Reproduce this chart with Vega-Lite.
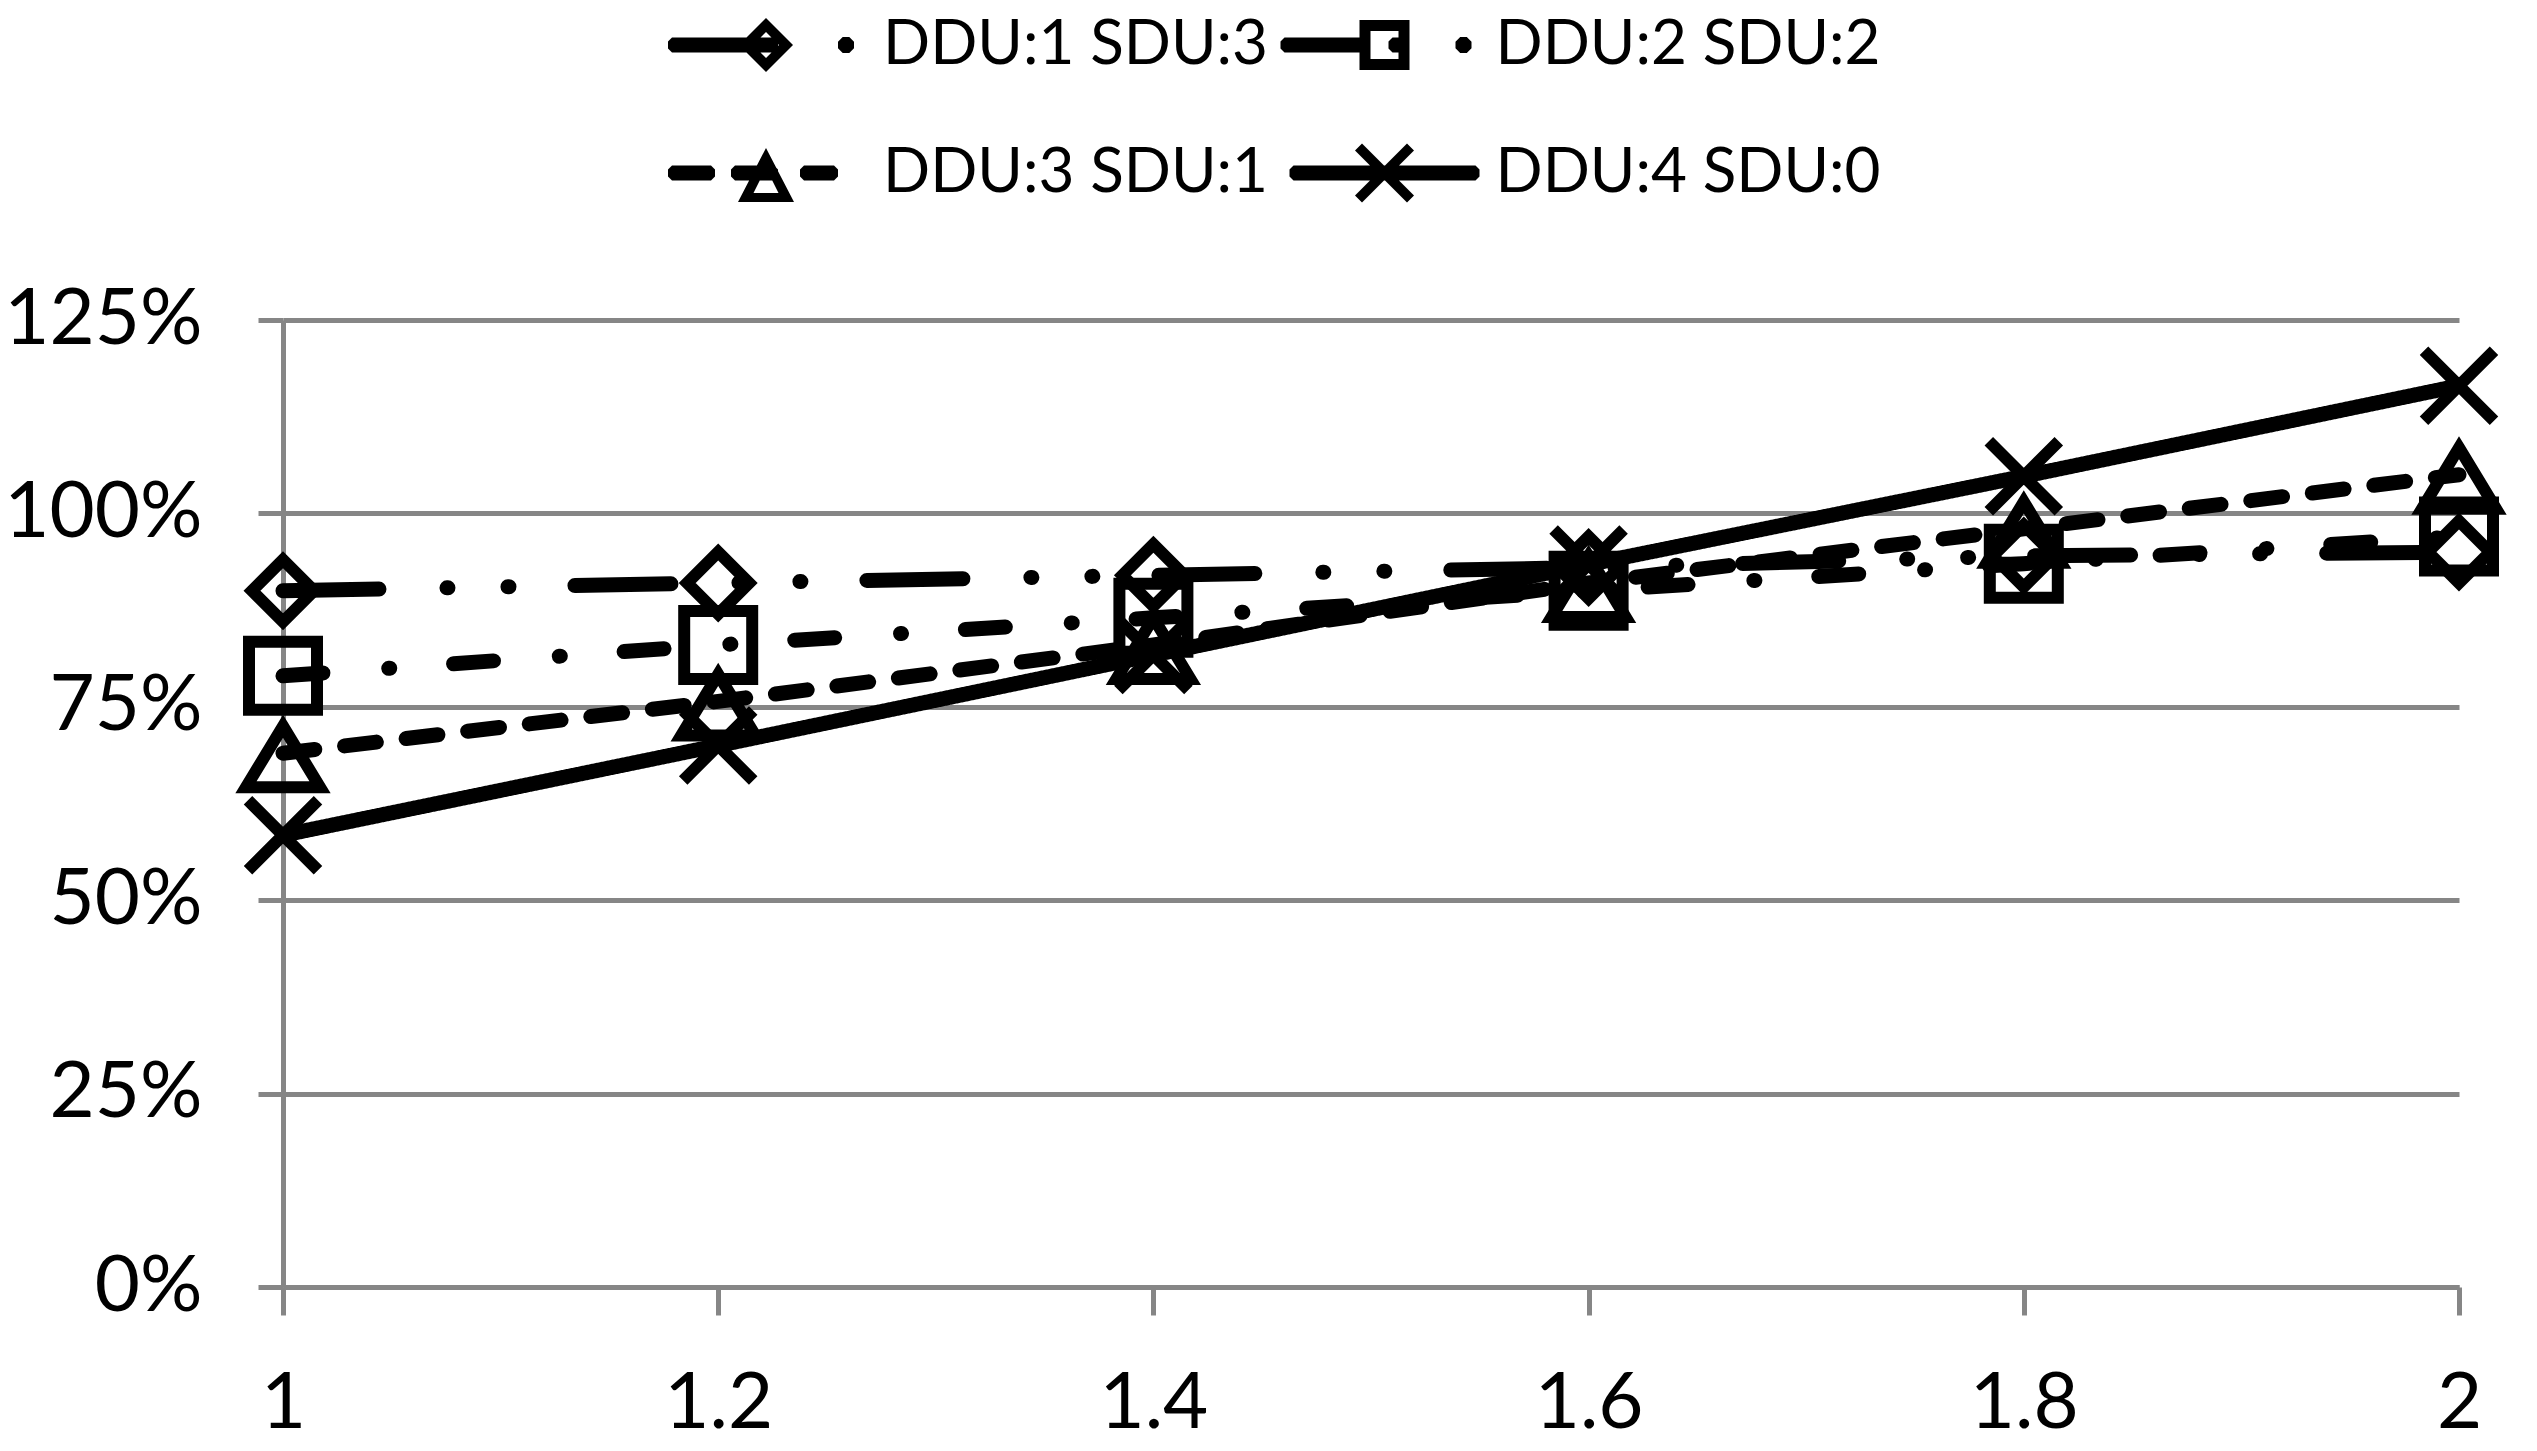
{
  "$schema": "https://vega.github.io/schema/vega-lite/v6.json",
  "width": 2176,
  "height": 967,
  "autosize": {"type": "none"},
  "padding": {"left": 283, "top": 320, "right": 78, "bottom": 164},
  "background": "white",
  "config": {"view": {"stroke": null}, "font": "Lato"},
  "data": {
    "values": [
      {"series": "DDU:1 SDU:3", "x": 1.0, "y": 0.90},
      {"series": "DDU:1 SDU:3", "x": 1.2, "y": 0.91},
      {"series": "DDU:1 SDU:3", "x": 1.4, "y": 0.92},
      {"series": "DDU:1 SDU:3", "x": 1.6, "y": 0.93},
      {"series": "DDU:1 SDU:3", "x": 1.8, "y": 0.945},
      {"series": "DDU:1 SDU:3", "x": 2.0, "y": 0.95},
      {"series": "DDU:2 SDU:2", "x": 1.0, "y": 0.79},
      {"series": "DDU:2 SDU:2", "x": 1.2, "y": 0.83},
      {"series": "DDU:2 SDU:2", "x": 1.4, "y": 0.865},
      {"series": "DDU:2 SDU:2", "x": 1.6, "y": 0.90},
      {"series": "DDU:2 SDU:2", "x": 1.8, "y": 0.935},
      {"series": "DDU:2 SDU:2", "x": 2.0, "y": 0.97},
      {"series": "DDU:3 SDU:1", "x": 1.0, "y": 0.69},
      {"series": "DDU:3 SDU:1", "x": 1.2, "y": 0.757},
      {"series": "DDU:3 SDU:1", "x": 1.4, "y": 0.83},
      {"series": "DDU:3 SDU:1", "x": 1.6, "y": 0.91},
      {"series": "DDU:3 SDU:1", "x": 1.8, "y": 0.98},
      {"series": "DDU:3 SDU:1", "x": 2.0, "y": 1.05},
      {"series": "DDU:4 SDU:0", "x": 1.0, "y": 0.584},
      {"series": "DDU:4 SDU:0", "x": 1.2, "y": 0.70},
      {"series": "DDU:4 SDU:0", "x": 1.4, "y": 0.817},
      {"series": "DDU:4 SDU:0", "x": 1.6, "y": 0.934},
      {"series": "DDU:4 SDU:0", "x": 1.8, "y": 1.048},
      {"series": "DDU:4 SDU:0", "x": 2.0, "y": 1.165}
    ]
  },
  "encoding": {
    "x": {
      "field": "x", "type": "quantitative",
      "scale": {"domain": [1, 2], "nice": false, "zero": false},
      "axis": {
        "values": [1, 1.2, 1.4, 1.6, 1.8, 2], "format": "~g", "title": null, "grid": false,
        "domainColor": "#868686", "domainWidth": 5,
        "tickColor": "#868686", "tickWidth": 5, "tickSize": 28,
        "labelFontSize": 78, "labelColor": "black", "labelPadding": 50,
        "labelFlush": false, "labelOverlap": false, "labelLimit": 500
      }
    },
    "y": {
      "field": "y", "type": "quantitative",
      "scale": {"domain": [0, 1.25], "nice": false},
      "axis": {
        "values": [0, 0.25, 0.5, 0.75, 1, 1.25], "format": ".0%", "title": null,
        "grid": true, "gridColor": "#868686", "gridWidth": 5,
        "domainColor": "#868686", "domainWidth": 5,
        "tickColor": "#868686", "tickWidth": 5, "tickSize": 25,
        "labelFontSize": 78, "labelColor": "black", "labelPadding": 56,
        "labelFlush": false, "labelOverlap": false, "labelLimit": 500
      }
    }
  },
  "resolve": {"scale": {"shape": "independent"}},
  "layer": [
    {
      "mark": {"type": "line", "strokeWidth": 15, "strokeCap": "round", "strokeJoin": "round", "color": "black"},
      "encoding": {
        "strokeDash": {
          "field": "series", "type": "nominal",
          "scale": {
            "domain": ["DDU:3 SDU:1", "DDU:4 SDU:0", "DDU:1 SDU:3", "DDU:2 SDU:2"],
            "range": [[32, 30], [1, 0], [96, 68, 1, 60, 1, 66], [40, 66, 1, 64]]
          },
          "legend": null
        }
      }
    },
    {
      "mark": {"type": "point", "filled": false, "color": "black", "strokeWidth": 12, "size": 4, "strokeJoin": "miter", "strokeCap": "butt", "opacity": 1},
      "encoding": {
        "shape": {
          "field": "series", "type": "nominal",
          "scale": {
            "domain": ["DDU:4 SDU:0", "DDU:3 SDU:1", "DDU:2 SDU:2", "DDU:1 SDU:3"],
            "range": ["M-35,-35L35,35M35,-35L-35,35", "M0,-27L37,34L-37,34Z", "M-34,-34H34V34H-34Z", "M0,-31L31,0L0,31L-31,0Z"]
          },
          "legend": null
        }
      }
    },
    {
      "transform": [{"filter": "false"}],
      "mark": {"type": "point", "filled": true, "color": "black", "size": 4, "strokeWidth": 0, "opacity": 1},
      "encoding": {
        "shape": {
          "field": "series", "type": "nominal",
          "scale": {
            "domain": ["DDU:1 SDU:3", "DDU:2 SDU:2", "DDU:3 SDU:1", "DDU:4 SDU:0"],
            "range": [
              "M-27.5,-7.5H74.5L78.5,-3.5V3.5L74.5,7.5H-27.5L-31.5,3.5V-3.5Z M138.5,-3.3L143.2,-8H149.8L154.5,-3.3V3.3L149.8,8H143.2L138.5,3.3Z M66.5,-27L93.5,0L66.5,27L39.5,0Z M66.5,-13L53.5,0L66.5,13L79.5,0Z",
              "M-27.5,-7.5H48.5L52.5,-3.5V3.5L48.5,7.5H-27.5L-31.5,3.5V-3.5Z M80.5,-7.5H88.5L92.5,-3.5V3.5L88.5,7.5H80.5L76.5,3.5V-3.5Z M143.5,-3.3L148.2,-8H154.8L159.5,-3.3V3.3L154.8,8H148.2L143.5,3.3Z M47.5,-25H97.5V25H47.5Z M58.5,-14V14H86.5V-14Z",
              "M-27.5,-7.5H11.5L15.5,-3.5V3.5L11.5,7.5H-27.5L-31.5,3.5V-3.5Z M35.5,-7.5H74.5L78.5,-3.5V3.5L74.5,7.5H35.5L31.5,3.5V-3.5Z M104.5,-7.5H134.5L138.5,-3.5V3.5L134.5,7.5H104.5L100.5,3.5V-3.5Z M66.5,-25L94.5,29L38.5,29Z M66.5,-5L54,20L79,20Z",
              "M-18.5,-7.5H163.5L167.5,-3.5V3.5L163.5,7.5H-18.5L-22.5,3.5V-3.5Z M50,-29.5L102,22.5L95,29.5L43,-22.5Z M95,-29.5L102,-22.5L50,29.5L43,22.5Z"
            ]
          },
          "legend": {
            "orient": "none", "legendX": 385.5, "legendY": -306,
            "direction": "horizontal", "columns": 2, "title": null,
            "labelFontSize": 62, "labelFont": "Lato", "labelColor": "black",
            "labelOffset": 152.5, "labelLimit": 1000, "symbolSize": 4,
            "columnPadding": 11.5, "rowPadding": 66, "padding": 0,
            "symbolStrokeWidth": 0, "symbolFillColor": "black", "symbolStrokeColor": "black", "symbolOpacity": 1
          }
        }
      }
    }
  ]
}
